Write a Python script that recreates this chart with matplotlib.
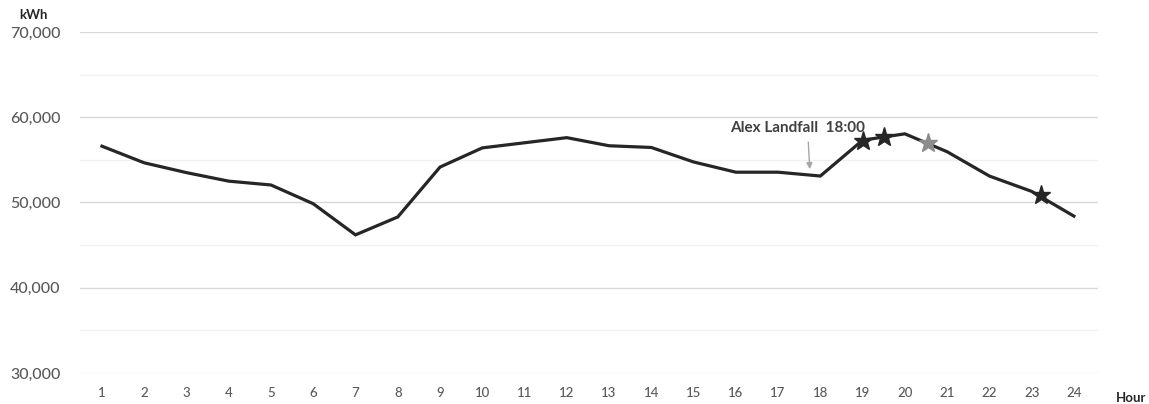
import matplotlib
matplotlib.use("Agg")
import matplotlib.pyplot as plt
from matplotlib.ticker import FuncFormatter, MultipleLocator

hours = list(range(1, 25))
kwh = [56600, 54650, 53500, 52500, 52050, 49850, 46200, 48300, 54150, 56400,
       57000, 57600, 56650, 56450, 54750, 53550, 53550, 53100, 57300, 58050,
       55950, 53100, 51300, 48400]

star_black_x = [19.0, 19.5, 23.22]
star_black_y = [57250, 57700, 50900]
star_gray_x = [20.55]
star_gray_y = [57000]

ann_text = "Alex Landfall  18:00"
ann_xy = (17.75, 53900)
ann_text_xy = (17.45, 57900)

plt.rcParams['font.family'] = ['Lato', 'DejaVu Sans']

fig = plt.figure(figsize=(11.49, 4.04), dpi=100)
ax = fig.add_axes([0.0696, 0.0767, 0.886, 0.8443])

ax.plot(hours, kwh, color='#262626', lw=2.3, solid_joinstyle='miter', zorder=3)
ax.plot(star_black_x, star_black_y, linestyle='none', marker='*', ms=14,
        color='#262626', zorder=4)
ax.plot(star_gray_x, star_gray_y, linestyle='none', marker='*', ms=14,
        color='#8c8c8c', zorder=4)

ax.annotate(ann_text, xy=ann_xy, xytext=ann_text_xy,
            ha='center', va='bottom', fontsize=11, fontweight='bold', color='#404040',
            arrowprops=dict(arrowstyle='-|>', color='#a6a6a6', lw=1.0,
                            shrinkA=3, shrinkB=0, mutation_scale=9,
                            relpos=(0.58, 0.0)))

ax.set_xlim(0.48, 24.57)
ax.set_ylim(30000, 70000)
ax.set_xticks(hours)
ax.yaxis.set_major_locator(MultipleLocator(10000))
ax.yaxis.set_minor_locator(MultipleLocator(5000))
ax.yaxis.set_major_formatter(FuncFormatter(lambda v, p: f"{int(v):,}"))

ax.grid(axis='y', which='major', color='#d9d9d9', lw=1.0, zorder=0)
ax.grid(axis='y', which='minor', color='#f0f0f0', lw=1.0, zorder=0)
ax.set_axisbelow(True)
for s in ax.spines.values():
    s.set_visible(False)
ax.tick_params(axis='both', which='both', length=0)
ax.tick_params(axis='y', labelsize=11.5, labelcolor='#595959', pad=14)
ax.tick_params(axis='x', labelsize=9.5, labelcolor='#595959', pad=10)
for lab in ax.get_yticklabels() + ax.get_xticklabels():
    lab.set_fontweight('medium')

fig.text(33/1149, 1-15/404, 'kWh', ha='center', va='center', fontsize=9.5,
         fontweight='bold', color='#262626')
fig.text(1131/1149, 1-398/404, 'Hour', ha='center', va='center', fontsize=9.5,
         fontweight='bold', color='#262626')

fig.savefig('out.png', dpi=100)
